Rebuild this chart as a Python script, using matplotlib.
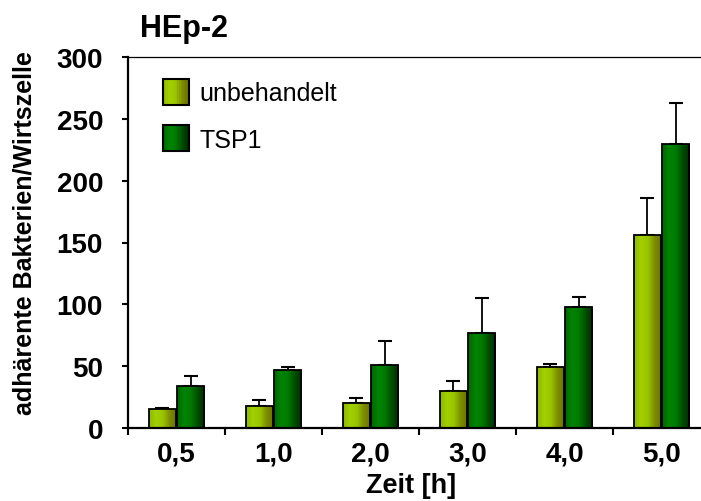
import numpy as np
import matplotlib.pyplot as plt
from matplotlib.colors import LinearSegmentedColormap
from matplotlib.patches import Rectangle
from matplotlib.legend_handler import HandlerBase

plt.rcParams['font.family'] = ['Liberation Sans', 'DejaVu Sans']

# Messwerte: adhaerente Bakterien pro Wirtszelle, Mittelwert + Fehler (nach oben)
zeiten = ['0,5', '1,0', '2,0', '3,0', '4,0', '5,0']
unbehandelt = [15, 18, 20, 30, 49, 156]
unbehandelt_err = [1, 5, 4, 8, 3, 30]
tsp1 = [34, 47, 51, 77, 98, 230]
tsp1_err = [8, 2, 19, 28, 8, 33]

# Farbverlaeufe (links -> rechts) fuer den Zylinder-Look
grad_gelb = LinearSegmentedColormap.from_list(
    'gelb', ['#8fb800', '#a2d000', '#99c400', '#7c8c00', '#6a7000'])
grad_gruen = LinearSegmentedColormap.from_list(
    'gruen', ['#006600', '#008400', '#007a00', '#004c00', '#002e00'])


def gradient_bars(ax, bars, cmap):
    ramp = np.linspace(0, 1, 64).reshape(1, -1)
    for b in bars:
        x0, y0 = b.get_x(), b.get_y()
        w, h = b.get_width(), b.get_height()
        im = ax.imshow(ramp, cmap=cmap, aspect='auto', interpolation='bilinear',
                       extent=(x0, x0 + w, y0, y0 + h), zorder=b.get_zorder())
        im.set_clip_path(b)
        b.set_facecolor('none')
        b.set_zorder(b.get_zorder() + 0.1)


class GradientHandler(HandlerBase):
    def __init__(self, cmap, **kw):
        super().__init__(**kw)
        self.cmap = cmap

    def create_artists(self, legend, orig_handle, xdescent, ydescent,
                       width, height, fontsize, trans):
        side = height
        x0 = -xdescent
        y0 = -ydescent
        n = 16
        arts = []
        for i in range(n):
            c = self.cmap((i + 0.5) / n)
            arts.append(Rectangle((x0 + i * side / n, y0), side / n + 0.3, side,
                                  facecolor=c, edgecolor='none', transform=trans))
        arts.append(Rectangle((x0, y0), side, side, facecolor='none',
                              edgecolor='black', lw=1.5, transform=trans))
        return arts


fig = plt.figure(figsize=(7.01, 5.02), dpi=100)
ax = fig.add_axes([128 / 701, 1 - 429 / 502, 582 / 701, 371 / 502])

x = np.arange(len(zeiten))
bw = 0.285
off = 0.145
b1 = ax.bar(x - off, unbehandelt, bw, edgecolor='black', linewidth=1.3, zorder=2,
            label='unbehandelt')
b2 = ax.bar(x + off, tsp1, bw, edgecolor='black', linewidth=1.3, zorder=2,
            label='TSP1')
gradient_bars(ax, b1, grad_gelb)
gradient_bars(ax, b2, grad_gruen)

ax.errorbar(x - off, unbehandelt, yerr=[np.zeros(len(x)), unbehandelt_err],
            fmt='none', ecolor='black', elinewidth=1.3, capsize=5, capthick=1.5, zorder=1)
ax.errorbar(x + off, tsp1, yerr=[np.zeros(len(x)), tsp1_err],
            fmt='none', ecolor='black', elinewidth=1.3, capsize=5, capthick=1.5, zorder=1)

ax.set_xlim(-0.5, len(zeiten) - 0.5)
ax.set_ylim(0, 300)
ax.set_yticks(range(0, 301, 50))
ax.tick_params(axis='y', direction='out', length=4, width=1.5, labelsize=20, pad=14)
for lab in ax.get_yticklabels():
    lab.set_fontweight('bold')

# Kategorien-Beschriftung mittig, Striche an den Grenzen
ax.set_xticks(x)
ax.set_xticklabels(zeiten, fontsize=20, fontweight='bold')
ax.tick_params(axis='x', which='major', length=0, pad=9)
ax.set_xticks(np.arange(-0.5, len(zeiten)), minor=True)
ax.tick_params(axis='x', which='minor', direction='out', length=5, width=1.5)

ax.spines['left'].set_linewidth(1.6)
ax.spines['bottom'].set_linewidth(1.6)
ax.spines['top'].set_linewidth(0.9)
ax.spines['right'].set_visible(False)

fig.text(25 / 701, 1 - 233 / 502, 'adhärente Bakterien/Wirtszelle', fontsize=18,
         fontweight='bold', rotation=90, ha='center', va='center')
fig.text(411 / 701, 1 - 486 / 502, 'Zeit [h]', fontsize=19.5, fontweight='bold',
         ha='center', va='center')
fig.text(140 / 701, 1 - 29 / 502, 'HEp-2', fontsize=22, fontweight='bold',
         ha='left', va='center')

ax.legend(handles=[b1, b2], labels=['unbehandelt', 'TSP1'],
          handler_map={b1: GradientHandler(grad_gelb), b2: GradientHandler(grad_gruen)},
          loc='upper left', bbox_to_anchor=((163 - 128) / 582, 1 - (80 - 58) / 371),
          borderaxespad=0, borderpad=0, frameon=False,
          fontsize=18, handlelength=1.2, handleheight=1.2, handletextpad=0.25,
          labelspacing=0.8)

fig.savefig('out.png', dpi=100)
